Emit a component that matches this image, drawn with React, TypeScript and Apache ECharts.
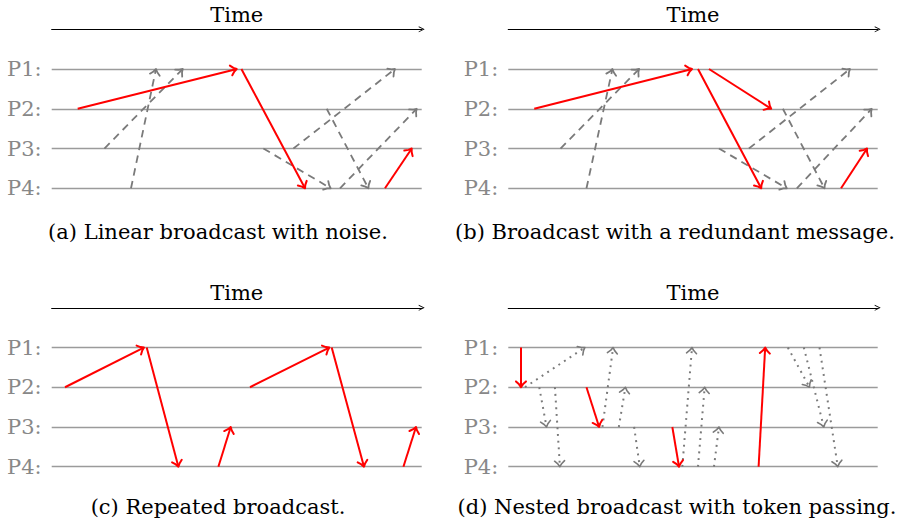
import React, { useEffect, useRef } from 'react';
import * as echarts from 'echarts';

const processLabels = ['P1:', 'P2:', 'P3:', 'P4:'];
const axisTitle = 'Time';
const captions = [
  '(a) Linear broadcast with noise.',
  '(b) Broadcast with a redundant message.',
  '(c) Repeated broadcast.',
  '(d) Nested broadcast with token passing.',
];

// each message: [sendTime, senderIndex, receiveTime, receiverIndex]  (P1 = 0 ... P4 = 3)
const aRed = [
  [26, 1, 185, 0],
  [189.7, 0, 253.3, 3],
  [333.3, 3, 360, 2],
];
const aNoise = [
  [52.7, 2, 131, 0],
  [79.3, 3, 104.3, 0],
  [211.7, 2, 279, 3],
  [241.7, 2, 343.3, 0],
  [275, 1, 316.7, 3],
  [288.3, 3, 365, 1],
];
const bRed = [
  [26, 1, 184, 0],
  [190, 0, 253.3, 3],
  [201, 0, 263.3, 1],
  [333.3, 3, 359.3, 2],
];
const bNoise = [
  [52.3, 2, 131, 0],
  [78.3, 3, 104.3, 0],
  [211, 2, 279, 3],
  [241, 2, 342.3, 0],
  [275, 1, 316.7, 3],
  [289, 3, 364, 1],
];
const cRed = [
  [13.3, 1, 92.3, 0],
  [95, 0, 126.7, 3],
  [166.7, 3, 179, 2],
  [198.3, 1, 277.7, 0],
  [280, 0, 312.3, 3],
  [351.7, 3, 364.3, 2],
];
const dRed = [
  [12.7, 0, 12.7, 1],
  [78.3, 1, 91, 2],
  [164.3, 2, 171, 3],
  [250.7, 3, 257.3, 0],
];
const dToken = [
  [16.7, 1, 76.7, 0],
  [31, 1, 38.3, 2],
  [46.7, 1, 51.7, 3],
  [94.3, 2, 105, 0],
  [110.7, 2, 117.3, 1],
  [126, 2, 131.7, 3],
  [174.3, 3, 184, 0],
  [190, 3, 196.7, 1],
  [206, 3, 211, 2],
  [280, 0, 301.7, 1],
  [296, 0, 316, 2],
  [311.7, 0, 330, 3],
];

const FONT = 'DejaVu Serif';
const FS = 21;
const RED = '#ff0000';
const GRAY = '#7a7a7a';

type Kind = 'solid' | 'dashed' | 'dotted';

function makeRender(color: string, kind: Kind) {
  return (params: any, api: any) => {
    const p1 = api.coord([api.value(0), api.value(1)]);
    const p2 = api.coord([api.value(2), api.value(3)]);
    const dx = p2[0] - p1[0];
    const dy = p2[1] - p1[1];
    const len = Math.hypot(dx, dy) || 1;
    const ux = dx / len;
    const uy = dy / len;
    const L = 5.8;
    const W = 5;
    const bx = p2[0] - ux * L;
    const by = p2[1] - uy * L;
    const mx = p2[0] - ux * L * 0.5;
    const my = p2[1] - uy * L * 0.5;
    const head = [
      [bx - uy * W, by + ux * W],
      [mx - uy * W * 0.38, my + ux * W * 0.38],
      [p2[0], p2[1]],
      [mx + uy * W * 0.38, my - ux * W * 0.38],
      [bx + uy * W, by - ux * W],
    ];
    const lw = kind === 'solid' ? 2 : kind === 'dashed' ? 1.8 : 2;
    const dash = kind === 'dashed' ? [7.5, 5.5] : kind === 'dotted' ? [1.9, 4.8] : null;
    return {
      type: 'group',
      children: [
        {
          type: 'line',
          shape: { x1: p1[0], y1: p1[1], x2: p2[0] - ux * 0.8, y2: p2[1] - uy * 0.8 },
          style: { stroke: color, lineWidth: lw, lineDash: dash, fill: null },
        },
        {
          type: 'polyline',
          shape: { points: head },
          style: { stroke: color, lineWidth: kind === 'dotted' ? 1.6 : lw, fill: null, lineJoin: 'round', lineCap: 'round' },
        },
      ],
    };
  };
}

const panels = [
  { left: 51.7, top: 69, width: 370, height: 119.3, series: [{ d: aNoise, c: GRAY, k: 'dashed' as Kind }, { d: aRed, c: RED, k: 'solid' as Kind }] },
  { left: 508.3, top: 69, width: 369.4, height: 119.3, series: [{ d: bNoise, c: GRAY, k: 'dashed' as Kind }, { d: bRed, c: RED, k: 'solid' as Kind }] },
  { left: 51.7, top: 347.5, width: 370, height: 119.2, series: [{ d: cRed, c: RED, k: 'solid' as Kind }] },
  { left: 508.3, top: 347.5, width: 369.4, height: 119.2, series: [{ d: dToken, c: GRAY, k: 'dotted' as Kind }, { d: dRed, c: RED, k: 'solid' as Kind }] },
];

const captionPos = [
  [218, 232],
  [675, 232],
  [218, 507],
  [677, 507],
];

const arrowPath = 'path://M0,10 L5,0 L10,10 L8.6,10 L5,3 L1.4,10 Z';

export default function App() {
  const ref = useRef<HTMLDivElement>(null);
  useEffect(() => {
    if (!ref.current) return;
    const chart = echarts.init(ref.current, null, { renderer: 'svg' });
    const grid = panels.map((p) => ({ left: p.left, top: p.top, width: p.width, height: p.height, containLabel: false }));
    const xAxis = panels.map((p, i) => ({
      gridIndex: i,
      type: 'value',
      min: 0,
      max: 370,
      position: 'top',
      offset: 39.7,
      axisLine: {
        show: true,
        onZero: false,
        symbol: ['none', arrowPath],
        symbolSize: [9, 6],
        lineStyle: { color: '#000', width: 1.2 },
      },
      axisTick: { show: false },
      axisLabel: { show: false },
      splitLine: { show: false },
      name: axisTitle,
      nameLocation: 'middle',
      nameGap: 4,
      nameTextStyle: { fontFamily: FONT, fontSize: FS, color: '#000' },
    }));
    const yAxis = panels.map((p, i) => ({
      gridIndex: i,
      type: 'value',
      min: 0,
      max: 3,
      interval: 1,
      inverse: true,
      axisLine: { show: false },
      axisTick: { show: false },
      splitLine: { show: true, lineStyle: { color: '#9b9b9b', width: 1.3 } },
      axisLabel: {
        formatter: (v: number) => processLabels[v] ?? '',
        color: '#888888',
        fontFamily: FONT,
        fontSize: FS,
        margin: 10,
      },
    }));
    const series: any[] = [];
    panels.forEach((p, i) => {
      p.series.forEach((s) => {
        series.push({
          type: 'custom',
          xAxisIndex: i,
          yAxisIndex: i,
          clip: false,
          encode: { x: [0, 2], y: [1, 3] },
          data: s.d,
          renderItem: makeRender(s.c, s.k),
          z: s.c === RED ? 3 : 2,
        });
      });
    });
    chart.setOption({
      animation: false,
      backgroundColor: '#ffffff',
      textStyle: { fontFamily: FONT },
      grid,
      xAxis,
      yAxis,
      series,
      graphic: captions.map((t, i) => ({
        type: 'text',
        x: captionPos[i][0],
        y: captionPos[i][1],
        style: {
          text: t,
          fontFamily: FONT,
          fontSize: FS,
          fill: '#000',
          textAlign: 'center',
          textVerticalAlign: 'middle',
          align: 'center',
          verticalAlign: 'middle',
        },
      })),
    });
    return () => chart.dispose();
  }, []);
  return <div ref={ref} style={{ position: 'fixed', left: 0, top: 0, width: 900, height: 526 }} />;
}
